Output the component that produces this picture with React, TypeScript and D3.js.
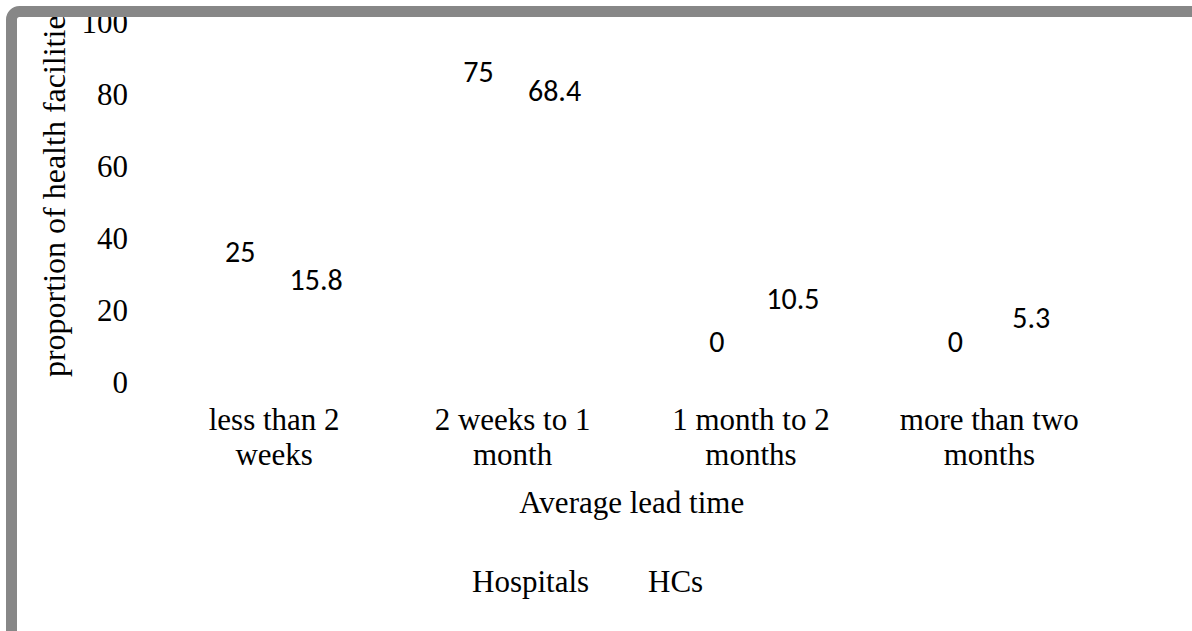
import React from "react";
import * as d3 from "d3";

// Average lead time by facility type (percent of facilities)
const categories: string[][] = [
  ["less than 2", "weeks"],
  ["2 weeks to 1", "month"],
  ["1 month to 2", "months"],
  ["more than two", "months"],
];
const seriesNames = ["Hospitals", "HCs"];
const hospitals = [25, 75, 0, 0];
const healthCentres = [15.8, 68.4, 10.5, 5.3];
const yTicks = [0, 20, 40, 60, 80, 100];

const W = 1192;
const H = 631;
const SERIF = "'Times New Roman', 'Liberation Serif', serif";
const SANS = "Calibri, Carlito, 'Open Sans', sans-serif";

export default function App() {
  const catKeys = categories.map((c) => c.join(" "));
  const x0 = d3.scaleBand<string>().domain(catKeys).range([155, 1108.5]).padding(0);
  const bw = x0.bandwidth();
  // series sit either side of the category centre
  const x1 = d3
    .scaleBand<string>()
    .domain(seriesNames)
    .range([bw / 2 - 72, bw / 2 + 80])
    .padding(0);
  const y = d3.scaleLinear().domain([0, 100]).range([382, 22]);

  const series = [
    { name: seriesNames[0], values: hospitals, lift: 30 },
    { name: seriesNames[1], values: healthCentres, lift: 35 },
  ];

  return (
    <div style={{ position: "absolute", left: 0, top: 0, width: W, height: H, background: "#fff" }}>
      <svg width={W} height={H} style={{ display: "block" }}>
        <defs>
          <clipPath id="chart-area">
            <rect x={6} y={6} width={W} height={H} />
          </clipPath>
        </defs>
        <rect x={0} y={0} width={W} height={H} fill="#ffffff" />

        <g clipPath="url(#chart-area)">
          {/* y-axis tick labels */}
          {yTicks.map((t) => (
            <text
              key={t}
              x={128}
              y={y(t)}
              dy="0.34em"
              textAnchor="end"
              fontFamily={SERIF}
              fontSize={31}
              fill="#000"
            >
              {t}
            </text>
          ))}

          {/* y-axis title */}
          <text
            transform="translate(65,190) rotate(-90)"
            textAnchor="middle"
            fontFamily={SERIF}
            fontSize={32}
            fill="#000"
          >
            proportion of health facilities
          </text>

          {/* bars (white fill) and value labels */}
          {series.map((s) => (
            <g key={s.name}>
              {s.values.map((v, i) => {
                const left = (x0(catKeys[i]) ?? 0) + (x1(s.name) ?? 0);
                const cx = left + x1.bandwidth() / 2;
                return (
                  <g key={i}>
                    <rect
                      x={left}
                      y={y(v)}
                      width={x1.bandwidth()}
                      height={y(0) - y(v)}
                      fill="#ffffff"
                    />
                    <text
                      x={cx}
                      y={y(v) - s.lift}
                      textAnchor="middle"
                      fontFamily={SANS}
                      fontSize={30}
                      fill="#000"
                    >
                      {v}
                    </text>
                  </g>
                );
              })}
            </g>
          ))}

          {/* category labels */}
          {categories.map((lines, i) => {
            const cx = (x0(catKeys[i]) ?? 0) + bw / 2;
            return (
              <text key={i} textAnchor="middle" fontFamily={SERIF} fontSize={31} fill="#000">
                {lines.map((ln, j) => (
                  <tspan key={j} x={cx} y={430 + j * 35}>
                    {ln}
                  </tspan>
                ))}
              </text>
            );
          })}

          {/* x-axis title */}
          <text
            x={(x0.range()[0] + x0.range()[1]) / 2}
            y={513}
            textAnchor="middle"
            fontFamily={SERIF}
            fontSize={31}
            fill="#000"
          >
            Average lead time
          </text>

          {/* legend */}
          <text x={472} y={592} fontFamily={SERIF} fontSize={31} fill="#000">
            {seriesNames[0]}
          </text>
          <text x={648} y={592} fontFamily={SERIF} fontSize={31} fill="#000">
            {seriesNames[1]}
          </text>
        </g>

        {/* outer frame, running past the right and bottom edges */}
        <rect
          x={11.5}
          y={11.5}
          width={W + 40}
          height={H + 40}
          rx={8}
          ry={8}
          fill="none"
          stroke="#878787"
          strokeWidth={11}
        />
      </svg>
    </div>
  );
}
